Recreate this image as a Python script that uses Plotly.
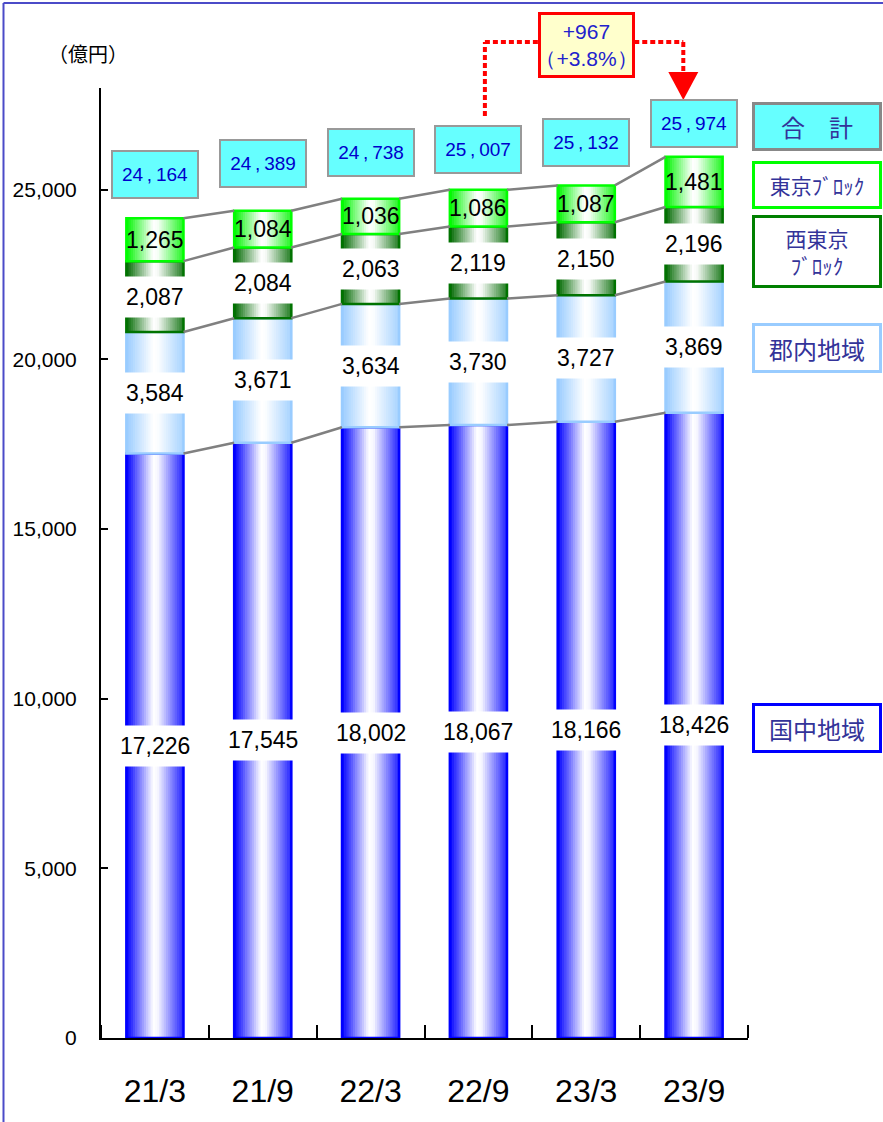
import math
import plotly.graph_objects as go

# ---------------- data ----------------
categories = ['21/3', '21/9', '22/3', '22/9', '23/3', '23/9']
kokuchu = [17226, 17545, 18002, 18067, 18166, 18426]      # 国中地域
gunnai = [3584, 3671, 3634, 3730, 3727, 3869]             # 郡内地域
nishi_tokyo = [2087, 2084, 2063, 2119, 2150, 2196]        # 西東京ブロック
tokyo = [1265, 1084, 1036, 1086, 1087, 1481]              # 東京ブロック
totals = [24164, 24389, 24738, 25007, 25132, 25974]       # 合計
y_ticks = [0, 5000, 10000, 15000, 20000, 25000]
unit_label = '（億円）'
legend_texts = ['合　計', '東京ﾌﾞﾛｯｸ', '西東京<br>ﾌﾞﾛｯｸ', '郡内地域', '国中地域']

# ---------------- styles ----------------
W = 0.53          # bar width (category units)
N = 26            # gradient strips per segment
total_label_lift = [44, 47, 46, 40, 43, 33]   # px above bar top
NUM_FONT = 'Liberation Sans, Arial, sans-serif'
CJK_FONT = 'Noto Sans CJK JP, sans-serif'

series = [
    dict(vals=kokuchu, edge=(0, 0, 255), border='rgb(0,0,255)', white_bg=True),
    dict(vals=gunnai, edge=(153, 204, 255), border='rgb(153,204,255)', white_bg=True),
    dict(vals=nishi_tokyo, edge=(0, 105, 0), border='rgb(0,115,0)', white_bg=True),
    dict(vals=tokyo, edge=(0, 245, 0), border='rgb(0,255,0)', white_bg=False),
]

prof_pts = [(0.0, 1.0), (0.47, 0.0), (0.55, 0.03), (0.95, 0.78), (1.0, 0.85)]


def prof(t):
    for (t0, f0), (t1, f1) in zip(prof_pts[:-1], prof_pts[1:]):
        if t0 <= t <= t1:
            return f0 + (f1 - f0) * (t - t0) / (t1 - t0)
    return prof_pts[-1][1]


def blend(edge, f):
    return 'rgb(%d,%d,%d)' % tuple(round(255 - f * (255 - c)) for c in edge)


x = list(range(len(categories)))
fig = go.Figure()

step = W / N
bases = [0] * len(x)
levels = []
label_annots = []
for s in series:
    vals = s['vals']
    for k in range(N):
        t = (k + 0.5) / N
        fig.add_bar(x=x, y=vals, base=bases, offset=-W / 2 + k * step,
                    width=step * (1.3 if k < N - 1 else 1.0),
                    marker=dict(color=blend(s['edge'], prof(t)), line=dict(width=0)),
                    hoverinfo='skip', showlegend=False)
    fig.add_bar(x=x, y=vals, base=bases, offset=-W / 2, width=W,
                marker=dict(color='rgba(0,0,0,0)', line=dict(color=s['border'], width=2.5)),
                hoverinfo='skip', showlegend=False)
    for i in x:
        ann = dict(x=i, y=bases[i] + vals[i] / 2, xref='x', yref='y', text=f'{vals[i]:,}',
                   showarrow=False, xanchor='center', yanchor='middle',
                   font=dict(family=NUM_FONT, size=23, color='black'))
        if s['white_bg']:
            ann.update(bgcolor='white', borderpad=7)
        label_annots.append(ann)
    bases = [b + v for b, v in zip(bases, vals)]
    levels.append(list(bases))

# series lines between bars
for lev in levels:
    lx, ly = [], []
    for i in range(len(x) - 1):
        lx += [x[i] + W / 2, x[i + 1] - W / 2, None]
        ly += [lev[i], lev[i + 1], None]
    fig.add_scatter(x=lx, y=ly, mode='lines', line=dict(color='rgb(128,128,128)', width=2.5),
                    hoverinfo='skip', showlegend=False)

annots = list(label_annots)

# total labels
for i in x:
    a, b = divmod(totals[i], 1000)
    annots.append(dict(x=i, y=levels[-1][i], xref='x', yref='y', yshift=total_label_lift[i],
                       text=f'{a}\u2009,\u2009{b:03d}', showarrow=False,
                       xanchor='center', yanchor='middle',
                       bgcolor='#66FFFF', bordercolor='#999999', borderwidth=2, borderpad=1,
                       width=82, height=43,
                       font=dict(family=NUM_FONT, size=19, color='#0000CC')))


def py(px):
    return (1038 - px) / 950


# unit label
annots.append(dict(x=(88 - 101) / 647, y=py(53), xref='paper', yref='paper', text=unit_label,
                   showarrow=False, xanchor='center', yanchor='middle',
                   font=dict(family=CJK_FONT, size=20, color='black')))

# legend boxes
legend_specs = [
    (legend_texts[0], 126.5, 41, '#66FFFF', '#888888', 24),
    (legend_texts[1], 185, 40, 'white', '#00FF00', 21),
    (legend_texts[2], 251.5, 65, 'white', '#008000', 21),
    (legend_texts[3], 348, 42, 'white', '#99CCFF', 24),
    (legend_texts[4], 728, 42, 'white', '#0000FF', 24),
]
for txt, cy, h, bg, bc, fs in legend_specs:
    annots.append(dict(x=(817 - 101) / 647, y=py(cy), xref='paper', yref='paper', text=txt,
                       showarrow=False, xanchor='center', yanchor='middle',
                       bgcolor=bg, bordercolor=bc, borderwidth=3, borderpad=1,
                       width=122, height=h,
                       font=dict(family=CJK_FONT, size=fs, color='#333399')))

# change annotation between 22/9 and 23/9
i_from, i_to = 3, 5
diff = totals[i_to] - totals[i_from]
pct = math.floor(diff / totals[i_from] * 1000) / 10
annots.append(dict(x=4, y=py(45), xref='x', yref='paper',
                   text=f'+{diff:,}<br>（+{pct:.1f}%）', showarrow=False,
                   xanchor='center', yanchor='middle',
                   bgcolor='#FFFFCC', bordercolor='#FF0000', borderwidth=3, borderpad=1,
                   width=89, height=58,
                   font=dict(family=NUM_FONT, size=21, color='#2222CC')))

xs_from = i_from + 0.06
xs_to = i_to - 0.10
red = dict(color='#FF0000', width=4, dash='5px,3px')
shapes = [
    dict(type='line', xref='x', yref='paper', x0=xs_from, x1=xs_from, y0=py(116), y1=py(42), line=red),
    dict(type='line', xref='x', yref='paper', x0=xs_from, x1=4, y0=py(42), y1=py(42), line=red),
    dict(type='line', xref='x', yref='paper', x0=4, x1=xs_to, y0=py(42), y1=py(42), line=red),
    dict(type='line', xref='x', yref='paper', x0=xs_to, x1=xs_to, y0=py(42), y1=py(74), line=red),
    dict(type='path', xref='x', yref='paper',
         path=f'M {xs_to - 0.139} {py(72)} L {xs_to + 0.139} {py(72)} L {xs_to} {py(100)} Z',
         fillcolor='#FF0000', line=dict(width=0)),
    # outer frame (left and top edges)
    dict(type='line', xref='paper', yref='paper', x0=-0.1507, x1=-0.1507, y0=-0.2, y1=py(3),
         line=dict(color='#4B4BC8', width=2)),
    dict(type='line', xref='paper', yref='paper', x0=-0.1507, x1=1.25, y0=py(3), y1=py(3),
         line=dict(color='#4B4BC8', width=2)),
]

fig.update_layout(
    width=883, height=1122,
    margin=dict(l=101, r=135, t=88, b=84, autoexpand=False),
    paper_bgcolor='white', plot_bgcolor='white',
    barmode='overlay', showlegend=False,
    font=dict(family=NUM_FONT, color='black'),
    annotations=annots, shapes=shapes,
    xaxis=dict(range=[-0.5, len(x) - 0.5], tickmode='array', tickvals=x, ticktext=categories,
               ticks='', showline=True, linecolor='black', linewidth=2, showgrid=False,
               zeroline=False, tickfont=dict(family=NUM_FONT, size=32, color='black'),
               ticklabelstandoff=24,
               minor=dict(tickmode='array', tickvals=[i - 0.5 for i in range(len(x) + 1)],
                          ticks='inside', ticklen=13, tickwidth=1.5, tickcolor='black',
                          showgrid=False)),
    yaxis=dict(range=[0, 28000], tickmode='array', tickvals=y_ticks, tickformat=',',
               ticks='inside', ticklen=7, tickwidth=1.5, tickcolor='black',
               showline=True, linecolor='black', linewidth=2, showgrid=False, zeroline=False,
               tickfont=dict(family=NUM_FONT, size=21, color='black'), ticklabelstandoff=18),
)

fig.write_html('out.html')
